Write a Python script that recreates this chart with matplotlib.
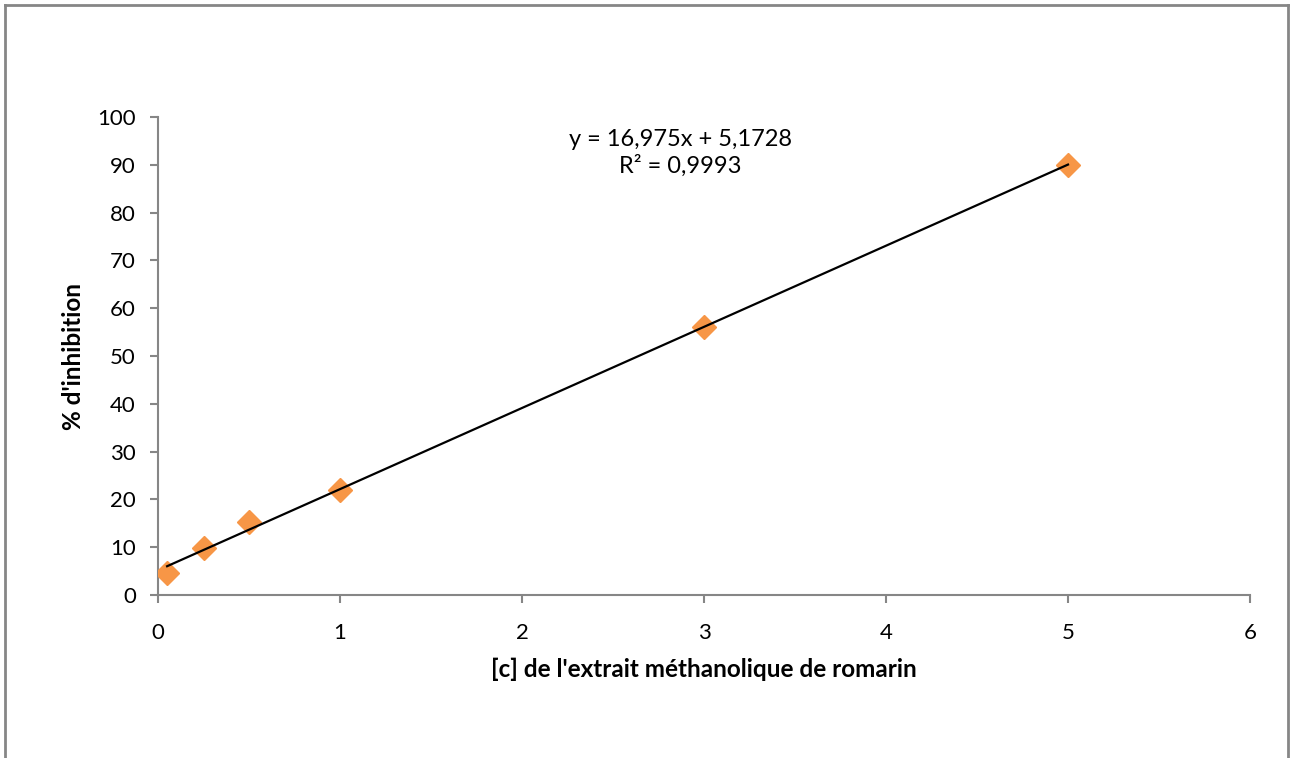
import numpy as np
import matplotlib
matplotlib.use('Agg')
import matplotlib.pyplot as plt
from matplotlib.lines import Line2D

conc = [0.05, 0.25, 0.5, 1, 3, 5]
inhib = [4.6, 9.8, 15.2, 22.0, 56.0, 90.0]
slope = 16.975
intercept = 5.1728
r2 = 0.9993

plt.rcParams['font.family'] = ['Lato', 'DejaVu Sans']

fig = plt.figure(figsize=(12.96, 7.58), dpi=100)
ax = fig.add_axes([158 / 1296, 1 - 595 / 758, (1250 - 158) / 1296, (595 - 117) / 758])

# cadre du graphique
gray = '#868686'
fig.add_artist(Line2D([5 / 1296, 5 / 1296], [0, 1 - 5 / 758], color=gray, lw=2, transform=fig.transFigure))
fig.add_artist(Line2D([5 / 1296, 1288 / 1296], [1 - 5 / 758, 1 - 5 / 758], color=gray, lw=2, transform=fig.transFigure))
fig.add_artist(Line2D([1288 / 1296, 1288 / 1296], [0, 1 - 5 / 758], color=gray, lw=2, transform=fig.transFigure))

ax.plot(conc, inhib, linestyle='none', marker='D', markersize=12, color='#F79646', zorder=3)

xfit = np.array([min(conc), max(conc)])
ax.plot(xfit, slope * xfit + intercept, color='black', lw=1.6, zorder=4)

ax.set_xlim(0, 6)
ax.set_ylim(0, 100)
ax.set_xticks(range(0, 7))
ax.set_yticks(range(0, 101, 10))

for s in ['top', 'right']:
    ax.spines[s].set_visible(False)
for s in ['left', 'bottom']:
    ax.spines[s].set_color(gray)
    ax.spines[s].set_linewidth(1.5)
ax.tick_params(direction='out', length=6, width=1.5, color=gray, labelsize=16)
ax.tick_params(axis='x', pad=14)
ax.tick_params(axis='y', pad=10)

ax.set_xlabel("[c] de l'extrait méthanolique de romarin", fontsize=17.5, fontweight='bold', labelpad=11)
ax.set_ylabel("% d'inhibition", fontsize=17.5, fontweight='bold', labelpad=9)

eq = 'y = {}x + {}\nR² = {}'.format(str(slope).replace('.', ','), str(intercept).replace('.', ','), str(r2).replace('.', ','))
ax.text(2.87, 97.5, eq, ha='center', va='top', fontsize=17, linespacing=1.25)

fig.savefig('out.png', dpi=100)
